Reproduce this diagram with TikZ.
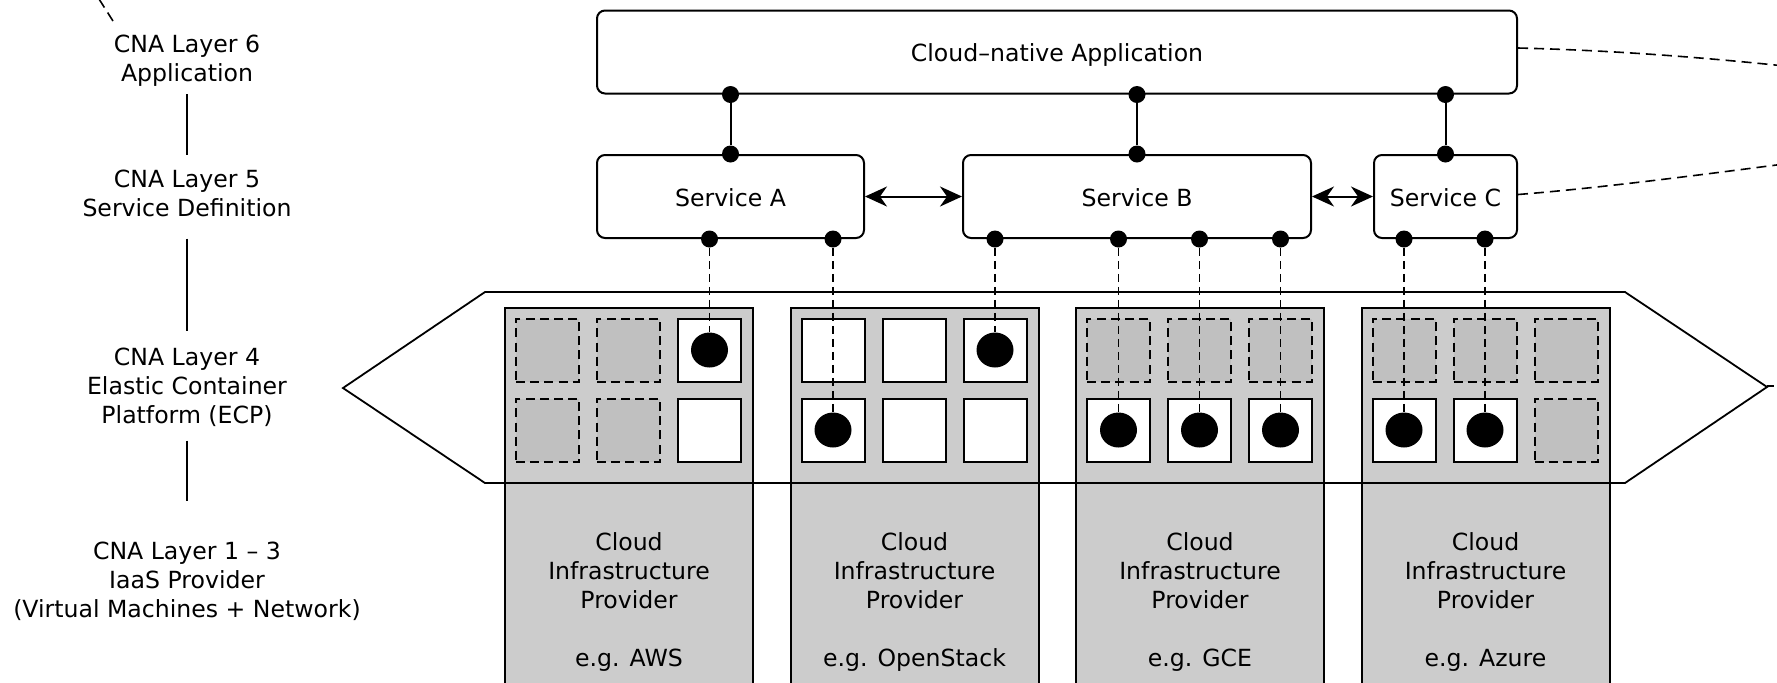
\documentclass[tikz,border=0pt]{standalone}
\usepackage{fontspec}
\setmainfont{DejaVu Sans}
\usetikzlibrary{arrows.meta,calc,shapes.geometric}
\definecolor{blockgray}{HTML}{CCCCCC}
\definecolor{vmgray}{HTML}{C0C0C0}
\begin{document}
\begin{tikzpicture}[x=0.5pt,y=-0.5pt,
  font=\fontsize{11.8}{14.5}\selectfont,
  appbox/.style={draw,line width=1pt,rounded corners=4pt,fill=white,inner sep=0pt,minimum height=41.5pt,text height=9.5pt,text depth=0pt},
  pdot/.style={circle,fill=black,inner sep=0pt,minimum size=8.5pt},
  block/.style={draw,line width=1pt,fill=blockgray,anchor=north west,inner sep=0pt,minimum width=124pt,minimum height=200pt},
  vmfree/.style={draw,line width=1pt,dash pattern=on 4.5pt off 2.6pt,fill=vmgray,inner sep=0pt,minimum size=31.5pt},
  vmused/.style={draw,line width=1pt,fill=white,inner sep=0pt,minimum size=31.5pt},
  ctr/.style={ellipse,fill=black,inner sep=0pt,minimum width=18.5pt,minimum height=17.5pt},
  lbl/.style={align=center,inner sep=0pt},
  layerline/.style={line width=0.8pt},
  applink/.style={line width=1pt},
  vmlink/.style={line width=0.9pt,dash pattern=on 4pt off 2.5pt},
  farlink/.style={line width=0.8pt,dash pattern=on 5pt off 3pt},
  peer/.style={line width=1pt,{Stealth[length=11pt,width=10pt,inset=3.5pt]}-{Stealth[length=11pt,width=10pt,inset=3.5pt]}},
  hexline/.style={line width=0.9pt}
]
\useasboundingbox (0,0) rectangle (1777,682);
\clip (0,0) rectangle (1777,682);

% provider blocks
\node[block] (b1) at (504,307) {};
\node[block] (b2) at (789.5,307) {};
\node[block] (b3) at (1075,307) {};
\node[block] (b4) at (1360.5,307) {};

% elastic container platform outline
\draw[hexline] (485,483) -- (343,388) -- (485,292) -- (1625,292) -- (1767,387) -- (1625,483) -- cycle;
\draw[hexline] (1767,386) -- (1774,386);

% container slots
\foreach \b/\r/\c/\s in {
  1/1/1/vmfree,1/1/2/vmfree,1/1/3/vmused,1/2/1/vmfree,1/2/2/vmfree,1/2/3/vmused,
  2/1/1/vmused,2/1/2/vmused,2/1/3/vmused,2/2/1/vmused,2/2/2/vmused,2/2/3/vmused,
  3/1/1/vmfree,3/1/2/vmfree,3/1/3/vmfree,3/2/1/vmused,3/2/2/vmused,3/2/3/vmused,
  4/1/1/vmfree,4/1/2/vmfree,4/1/3/vmfree,4/2/1/vmused,4/2/2/vmused,4/2/3/vmfree}
  \node[\s] (s\b\r\c) at ($(b\b.north west)+({43.5+81*(\c-1)},{43+80*(\r-1)})$) {};

% containers
\foreach \n in {113,213,221,321,322,323,421,422}
  \node[ctr] (c\n) at (s\n) {};

% provider texts
\node[lbl] (t1) at ($(b1.north)+(0,294.5)$) {Cloud\\Infrastructure\\Provider\\[14.5pt]e.g. AWS};
\node[lbl] (t2) at ($(b2.north)+(0,294.5)$) {Cloud\\Infrastructure\\Provider\\[14.5pt]e.g. OpenStack};
\node[lbl] (t3) at ($(b3.north)+(0,294.5)$) {Cloud\\Infrastructure\\Provider\\[14.5pt]e.g. GCE};
\node[lbl] (t4) at ($(b4.north)+(0,294.5)$) {Cloud\\Infrastructure\\Provider\\[14.5pt]e.g. Azure};

% application and services
\node[appbox,minimum width=460pt] (app) at (1057,52) {Cloud–native Application};
\node[appbox,minimum width=133.5pt] (svcA) at (730.5,196.5) {Service A};
\node[appbox,minimum width=174pt] (svcB) at (1137,196.5) {Service B};
\node[appbox,minimum width=71.5pt] (svcC) at (1445.5,196.5) {Service C};

\foreach \s in {svcA,svcB,svcC}{
  \node[pdot] (pt-\s) at (\s.north) {};
  \node[pdot] (pa-\s) at (\s.north |- app.south) {};
  \draw[applink] (pa-\s) -- (pt-\s);
}

\draw[peer] (svcA) -- (svcB);
\draw[peer] (svcB) -- (svcC);

% service to container links
\foreach \s/\c in {svcA/c113,svcA/c221,svcB/c213,svcB/c321,svcB/c322,svcB/c323,svcC/c421,svcC/c422}{
  \node[pdot] (p-\c) at (\c |- \s.south) {};
  \draw[vmlink] (p-\c) -- (\c.north);
}

% layer labels
\node[lbl] (l6) at (187,61) {CNA Layer 6\\Application};
\node[lbl] (l5) at (187,193.5) {CNA Layer 5\\Service Definition};
\node[lbl] (l4) at (187,387) {CNA Layer 4\\Elastic Container\\Platform (ECP)};
\node[lbl] (l13) at (187,581) {CNA Layer 1 – 3\\IaaS Provider\\(Virtual Machines + Network)};

\draw[layerline,shorten <=3.5pt,shorten >=7.5pt] (l6) -- (l5);
\draw[layerline,shorten <=10.7pt,shorten >=8.25pt] (l5) -- (l4);
\draw[layerline,shorten <=7pt,shorten >=20pt] (l4) -- (l13);

% links leaving the picture
\coordinate (farLs) at (113,21);
\coordinate (farLe) at (92,-12);
\draw[farlink] (farLs) -- (farLe);
\coordinate (farA) at (1830,71);
\draw[farlink] ([yshift=2pt]app.east) .. controls (1600,50) and (1700,56) .. (farA);
\coordinate (farC) at (1830,158);
\draw[farlink] ([yshift=1pt]svcC.east) .. controls (1600,188) and (1700,175) .. (farC);
\end{tikzpicture}
\end{document}
